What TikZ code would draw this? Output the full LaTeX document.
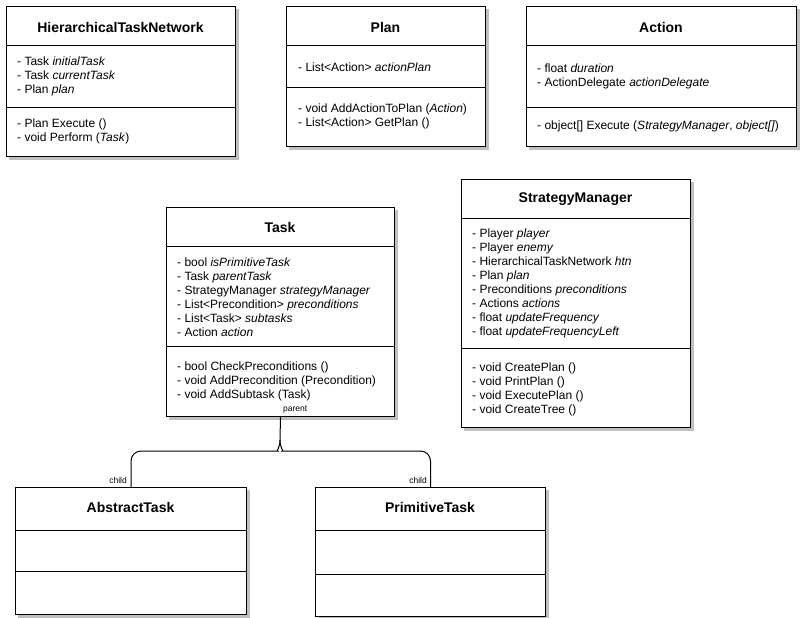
\documentclass[tikz,border=0pt]{standalone}
\usepackage{fontspec}
\setmainfont{Liberation Sans}
\usetikzlibrary{backgrounds}
\begin{document}
\begin{tikzpicture}[x=1pt,y=-1pt,
  classbox/.style={draw, line width=1pt, fill=white, inner sep=0, anchor=north west},
  title/.style={font=\fontsize{14}{16}\selectfont\bfseries, inner sep=0},
  members/.style={font=\fontsize{12}{14}\selectfont, align=left, anchor=west, inner sep=0},
  divider/.style={line width=1pt},
  shadowfill/.style={fill=black!25},
  lbl/.style={font=\fontsize{8.5}{10}\selectfont, inner sep=0},
  conn/.style={line width=1pt}]
\useasboundingbox (0,0) rectangle (803,618);

% HierarchicalTaskNetwork
\node[classbox, minimum width=229pt, minimum height=150pt] (htn) at (6,6) {};
\node[title] (htnT) at (120.5,27) {HierarchicalTaskNetwork};
\draw[divider] (htn.west |- 0,46) -- (htn.east |- 0,46);
\draw[divider] (htn.west |- 0,107) -- (htn.east |- 0,107);
\node[members] (htnA) at (17,76) {- Task \textit{initialTask}\\- Task \textit{currentTask}\\- Plan \textit{plan}};
\node[members] (htnM) at (17,131.5) {- Plan Execute ()\\- void Perform (\textit{Task})};

% Plan
\node[classbox, minimum width=199pt, minimum height=140pt] (plan) at (286,6) {};
\node[title] (planT) at (385.5,27) {Plan};
\draw[divider] (plan.west |- 0,46) -- (plan.east |- 0,46);
\draw[divider] (plan.west |- 0,87) -- (plan.east |- 0,87);
\node[members] (planA) at (298,67) {- List<Action> \textit{actionPlan}};
\node[members] (planM) at (298,116.5) {- void AddActionToPlan (\textit{Action})\\- List<Action> GetPlan ()};

% Action
\node[classbox, minimum width=270pt, minimum height=140pt] (action) at (526,6) {};
\node[title] (actionT) at (661,27) {Action};
\draw[divider] (action.west |- 0,46) -- (action.east |- 0,46);
\draw[divider] (action.west |- 0,107) -- (action.east |- 0,107);
\node[members] (actionA) at (537,76.5) {- float \textit{duration}\\- ActionDelegate \textit{actionDelegate}};
\node[members] (actionM) at (537,126) {- object[] Execute (\textit{StrategyManager}, \textit{object[]})};

% Task
\node[classbox, minimum width=228pt, minimum height=209pt] (task) at (166,207) {};
\node[title] (taskT) at (280,227) {Task};
\draw[divider] (task.west |- 0,246) -- (task.east |- 0,246);
\draw[divider] (task.west |- 0,346) -- (task.east |- 0,346);
\node[members] (taskA) at (177,297) {- bool \textit{isPrimitiveTask}\\- Task \textit{parentTask}\\- StrategyManager \textit{strategyManager}\\- List<Precondition> \textit{preconditions}\\- List<Task> \textit{subtasks}\\- Action \textit{action}};
\node[members] (taskM) at (177,381) {- bool CheckPreconditions ()\\- void AddPrecondition (Precondition)\\- void AddSubtask (Task)};

% StrategyManager
\node[classbox, minimum width=229pt, minimum height=248pt] (sm) at (461,179) {};
\node[title] (smT) at (575.5,199) {StrategyManager};
\draw[divider] (sm.west |- 0,218) -- (sm.east |- 0,218);
\draw[divider] (sm.west |- 0,348) -- (sm.east |- 0,348);
\node[members] (smA) at (472,283.5) {- Player \textit{player}\\- Player \textit{enemy}\\- HierarchicalTaskNetwork \textit{htn}\\- Plan \textit{plan}\\- Preconditions \textit{preconditions}\\- Actions \textit{actions}\\- float \textit{updateFrequency}\\- float \textit{updateFrequencyLeft}};
\node[members] (smM) at (472,389) {- void CreatePlan ()\\- void PrintPlan ()\\- void ExecutePlan ()\\- void CreateTree ()};

% AbstractTask
\node[classbox, minimum width=231pt, minimum height=127pt] (at) at (15,487) {};
\node[title] (atT) at (130.5,507) {AbstractTask};
\draw[divider] (at.west |- 0,530) -- (at.east |- 0,530);
\draw[divider] (at.west |- 0,571) -- (at.east |- 0,571);

% PrimitiveTask
\node[classbox, minimum width=230pt, minimum height=129pt] (pt) at (315,487) {};
\node[title] (ptT) at (430,507) {PrimitiveTask};
\draw[divider] (pt.west |- 0,530) -- (pt.east |- 0,530);
\draw[divider] (pt.west |- 0,574) -- (pt.east |- 0,574);

% shadows
\begin{scope}[on background layer]
\foreach \n in {htn,plan,action,task,sm,at,pt}
  \fill[shadowfill] ([xshift=3pt,yshift=-3pt]\n.south west) rectangle ([xshift=3pt,yshift=-3pt]\n.north east);
\end{scope}

% connector
\coordinate (j) at (280,440);
\draw[conn] (task.south) -- (j);
\draw[conn, rounded corners=10pt] (j) .. controls (280,448) and (284,451) .. (292,451) -- (pt.north |- 0,451) -- (pt.north);
\draw[conn, rounded corners=10pt] (j) .. controls (280,448) and (276,451) .. (268,451) -- (at.north |- 0,451) -- (at.north);

\node[lbl, anchor=south west] (parentL) at (283,413) {parent};
\node[lbl, anchor=south east] (childL1) at (127,484) {child};
\node[lbl, anchor=south east] (childL2) at (427,484) {child};
\end{tikzpicture}
\end{document}
